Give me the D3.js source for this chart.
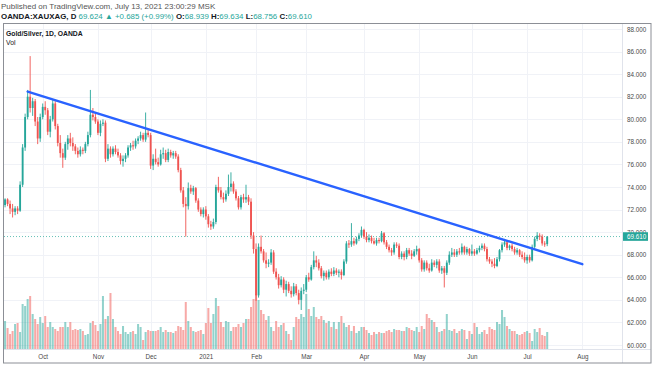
<!DOCTYPE html>
<html>
<head>
<meta charset="utf-8">
<script src="https://cdn.jsdelivr.net/npm/d3@7"></script>
<style>
  body { margin: 0; background: #fff; }
  svg { display: block; font-family: "Liberation Sans", Arial, sans-serif; }
</style>
</head>
<body>
<svg id="chart" width="654" height="366"></svg>
<script>
// ---- data (OANDA:XAUXAG, daily) ----
const firstDay = "2020-09-10";
const axisEndDay = "2021-09-30";
const holidays = ["2020-12-25", "2021-01-01"];

const opens = [
  72.4,72.9,72.5,72.1,71.8,72.1,71.9,74.2,77.5,80.2, 82.0,81.0,81.6,79.8,78.3,80.2,81.1,80.8,78.9,80.0,
  81.4,79.4,77.9,77.0,76.6,77.8,78.3,77.9,77.6,77.2, 76.9,77.3,77.2,77.8,78.6,80.4,80.2,79.8,78.8,79.6,
  79.7,76.5,77.4,76.9,77.4,77.1,76.8,76.3,76.5,76.8, 77.5,77.7,77.6,78.1,78.3,78.6,78.2,78.8,78.6,75.9,
  76.5,76.2,76.0,76.9,77.0,76.4,77.1,76.8,77.0,76.7, 75.5,73.7,72.5,72.3,73.9,73.6,73.9,72.8,72.0,71.6,
  72.0,71.4,70.7,70.5,70.9,74.0,73.7,73.1,72.9,73.4, 74.0,74.3,73.6,73.0,72.2,73.1,72.9,73.1,72.7,69.7,
  68.5,64.4,68.7,68.3,67.5,67.2,67.3,68.2,66.5,66.0, 65.3,65.8,64.9,65.4,64.8,64.5,65.2,64.6,64.0,64.8,
  64.9,66.0,65.8,66.9,67.5,67.3,66.8,66.1,66.4,66.0, 66.5,66.3,66.6,66.4,66.5,66.2,67.4,69.0,68.9,69.2,
  69.0,69.4,69.7,70.2,69.6,69.3,69.5,69.2,69.0,69.3, 69.2,69.9,69.1,68.7,68.4,68.2,68.9,68.8,67.8,68.1,
  67.8,68.4,68.1,67.9,68.3,68.5,67.5,66.7,67.3,66.8, 66.6,67.3,67.1,67.4,66.6,66.8,66.4,67.3,68.0,68.2,
  68.0,68.3,68.2,68.7,68.2,68.5,68.1,68.3,68.1,68.4, 68.6,68.8,68.5,67.6,67.4,67.2,67.0,67.6,68.4,68.9,
  69.1,68.6,68.8,68.5,68.2,68.4,68.0,67.8,67.5,67.8, 67.5,68.7,69.4,69.7,69.6,69.0,68.939
];
const highs = [
  73.0,73.0,72.8,72.5,72.3,72.3,74.5,77.8,80.5,82.6, 85.6,81.9,81.8,80.2,80.5,81.4,81.6,81.0,80.3,81.7,
  81.6,79.6,78.6,77.4,78.0,78.6,78.8,78.4,77.8,77.5, 77.6,77.5,78.0,78.9,82.6,81.0,80.5,80.0,79.9,80.0,
  79.9,77.8,77.6,77.6,77.7,77.4,77.0,76.8,77.0,77.7, 77.9,78.1,78.3,78.5,78.9,78.8,80.6,79.2,78.8,76.9,
  77.4,76.6,77.3,77.5,77.3,77.4,77.3,77.2,77.2,76.9, 75.7,74.0,73.1,74.4,74.2,74.1,74.0,73.0,72.2,72.2,
  72.3,71.6,71.0,71.2,74.2,74.9,74.0,73.5,73.7,75.1, 75.3,74.5,73.8,73.2,73.3,73.4,74.2,73.3,73.0,70.0,
  69.0,69.0,69.7,68.5,68.2,67.6,68.5,68.4,66.8,66.3, 66.1,66.0,65.7,65.6,65.2,65.5,65.4,64.9,65.1,65.4,
  66.2,66.4,67.1,68.3,67.9,67.6,67.0,66.6,66.6,66.7, 66.8,66.9,66.8,66.7,66.7,67.6,69.2,69.3,70.8,69.5,
  69.6,69.9,70.5,70.3,70.0,69.8,69.7,69.5,69.5,69.5, 70.1,70.0,69.3,68.9,68.6,69.1,69.1,69.0,68.3,68.3,
  68.6,68.6,68.4,68.5,68.8,68.6,67.7,67.5,67.5,67.2, 67.6,67.5,67.6,67.6,67.0,67.0,67.5,68.3,68.6,68.5,
  68.5,68.6,69.0,68.8,68.7,68.6,68.9,68.5,68.6,68.8, 69.0,69.0,68.7,67.8,67.6,67.7,67.8,68.5,69.1,69.4,
  69.3,68.9,69.0,68.7,68.6,68.5,68.3,68.2,68.0,68.0, 68.9,69.6,70.0,69.9,69.8,69.2,69.634
];
const lows = [
  72.2,72.3,71.6,71.3,71.5,71.6,71.8,74.0,77.2,80.0, 80.6,80.3,79.4,77.8,78.0,80.0,80.4,78.6,78.4,79.8,
  79.1,77.6,76.6,75.7,76.4,77.3,77.6,77.2,76.9,76.6, 76.7,76.9,77.0,77.6,78.4,79.9,79.6,78.6,78.5,79.4,
  76.2,76.3,76.6,76.7,76.9,76.6,76.0,75.8,76.2,76.6, 77.2,77.3,77.4,77.8,78.1,78.0,78.0,78.4,75.6,75.5,
  76.0,75.8,75.9,76.5,76.2,76.2,76.6,76.5,76.5,75.3, 73.5,72.2,69.6,72.0,73.4,73.3,72.6,71.8,71.4,71.3,
  71.1,70.4,70.2,70.3,70.7,73.5,72.9,72.6,72.7,73.2, 73.6,73.4,72.8,72.0,72.0,72.6,72.6,72.4,69.4,68.1,
  63.9,64.2,68.1,67.3,66.8,66.9,67.1,66.3,65.8,65.0, 65.1,64.6,64.3,64.6,64.2,64.3,64.4,63.6,63.1,64.5,
  64.7,65.6,65.7,66.7,66.9,66.6,65.9,65.7,65.8,65.8, 66.1,66.1,66.2,66.0,65.8,66.1,67.2,68.6,68.7,68.8,
  68.9,69.2,69.5,69.4,69.1,69.1,69.0,68.9,68.8,69.0, 69.1,68.9,68.5,68.2,67.9,68.0,68.6,67.6,67.6,67.5,
  67.6,67.9,67.6,67.8,68.0,67.3,66.5,66.5,66.6,66.4, 66.5,66.9,66.8,66.4,66.3,65.1,66.2,67.1,67.8,67.8,
  67.8,68.0,68.0,68.0,68.0,67.9,67.9,67.9,68.0,68.2, 68.4,68.3,67.4,67.2,66.9,66.8,66.9,67.4,68.2,68.7,
  68.4,68.4,68.3,68.0,68.0,67.8,67.6,67.3,67.2,67.3, 67.4,68.5,69.2,69.3,68.8,68.7,68.756
];
const closes = [
  72.9,72.5,72.1,71.8,72.1,71.9,74.2,77.5,80.2,82.0, 81.0,81.6,79.8,78.3,80.2,81.1,80.8,78.9,80.0,81.4,
  79.4,77.9,77.0,76.6,77.8,78.3,77.9,77.6,77.2,76.9, 77.3,77.2,77.8,78.6,80.4,80.2,79.8,78.8,79.6,79.7,
  76.5,77.4,76.9,77.4,77.1,76.8,76.3,76.5,76.8,77.5, 77.7,77.6,78.1,78.3,78.6,78.2,78.8,78.6,75.9,76.5,
  76.2,76.0,76.9,77.0,76.4,77.1,76.8,77.0,76.7,75.5, 73.7,72.5,72.3,73.9,73.6,73.9,72.8,72.0,71.6,72.0,
  71.4,70.7,70.5,70.9,74.0,73.7,73.1,72.9,73.4,74.0, 74.3,73.6,73.0,72.2,73.1,72.9,73.1,72.7,69.7,68.5,
  64.4,68.7,68.3,67.5,67.2,67.3,68.2,66.5,66.0,65.3, 65.8,64.9,65.4,64.8,64.5,65.2,64.6,64.0,64.8,64.9,
  66.0,65.8,66.9,67.5,67.3,66.8,66.1,66.4,66.0,66.5, 66.3,66.6,66.4,66.5,66.2,67.4,69.0,68.9,69.2,69.0,
  69.4,69.7,70.2,69.6,69.3,69.5,69.2,69.0,69.3,69.2, 69.9,69.1,68.7,68.4,68.2,68.9,68.8,67.8,68.1,67.8,
  68.4,68.1,67.9,68.3,68.5,67.5,66.7,67.3,66.8,66.6, 67.3,67.1,67.4,66.6,66.8,66.4,67.3,68.0,68.2,68.0,
  68.3,68.2,68.7,68.2,68.5,68.1,68.3,68.1,68.4,68.6, 68.8,68.5,67.6,67.4,67.2,67.0,67.6,68.4,68.9,69.1,
  68.6,68.8,68.5,68.2,68.4,68.0,67.8,67.5,67.8,67.5, 68.7,69.4,69.7,69.6,69.0,68.925,69.610
];
const volumes = [
  28,21,15,18,25,26,17,45,43,50, 53,35,30,25,32,26,33,22,27,22,
  20,18,22,22,27,22,27,19,20,19, 20,18,14,15,26,28,24,18,25,53,
  30,33,56,30,22,18,15,23,17,15, 17,18,15,25,22,9,17,19,18,18,
  18,19,22,17,19,17,17,16,18,23, 22,19,47,28,22,18,17,18,19,15,
  26,41,26,35,51,43,27,22,28,27, 18,22,22,25,22,26,30,30,42,50,
  55,49,39,35,29,33,22,18,28,22, 24,26,18,15,9,22,32,30,35,32,
  55,40,33,42,32,30,33,29,26,28, 22,27,20,27,33,26,22,24,18,23,
  16,18,22,22,19,16,14,17,15,17, 16,16,18,19,17,20,19,19,18,18,
  22,21,19,18,22,17,23,20,35,31, 29,27,22,17,18,20,35,19,18,20,
  16,18,20,19,10,18,15,26,22,15, 17,19,15,22,20,19,27,25,39,32,
  23,20,18,18,15,14,15,17,18,16, 8,20,17,21,14,13,17
];

const priceTicks = [60, 62, 64, 66, 68, 70, 72, 74, 76, 78, 80, 82, 84, 86, 88];
const tickMonths = ["2020-10", "2020-11", "2020-12", "2021-01", "2021-02", "2021-03",
                    "2021-04", "2021-05", "2021-06", "2021-07", "2021-08"];
const tickLabels = ["Oct", "Nov", "Dec", "2021", "Feb", "Mar", "Apr", "May", "Jun", "Jul", "Aug"];

// trend line drawn on the chart: [date, price]
const trendFrom = ["2020-09-23", 82.45];
const trendTo = ["2021-08-02", 67.16];
const livePrice = 69.624;

// ---- layout ----
const plot = { left: 4, right: 622, top: 23, bottom: 349 };
const up = "#26a69a", down = "#ef5350";
const font = "'Liberation Sans', Arial, sans-serif";

const svg = d3.select("#chart");

const parse = d3.utcParse("%Y-%m-%d"), fmt = d3.utcFormat("%Y-%m-%d");
const days = d3.utcDays(parse(firstDay), parse(axisEndDay))
  .filter(d => d.getUTCDay() % 6 !== 0 && !holidays.includes(fmt(d)));
const idxOf = s => days.findIndex(d => fmt(d) >= s);

const bars = closes.map((c, i) => ({ i: i, o: opens[i], h: highs[i], l: lows[i], c: c, v: volumes[i] }));
const n = bars.length;

const x = d3.scaleLinear().domain([-0.42, 245.8]).range([plot.left, plot.right]);
const y = d3.scaleLinear().domain([60, 88]).range([345, 29]);
const yVol = d3.scaleLinear().domain([0, d3.max(volumes)]).range([plot.bottom, plot.bottom - 56]);
const step = x(1) - x(0);

svg.append("defs").append("clipPath").attr("id", "clip")
  .append("rect")
  .attr("x", plot.left).attr("y", plot.top)
  .attr("width", plot.right - plot.left).attr("height", plot.bottom - plot.top);

// grid
const tickIdx = tickMonths.map(m => days.findIndex(d => fmt(d).slice(0, 7) === m));
const grid = svg.append("g").attr("stroke", "#f0f2f7").attr("stroke-width", 1);
grid.selectAll(".hg").data(priceTicks).enter().append("line")
  .attr("x1", plot.left).attr("x2", plot.right)
  .attr("y1", d => Math.round(y(d)) + 0.5).attr("y2", d => Math.round(y(d)) + 0.5);
grid.selectAll(".vg").data(tickIdx).enter().append("line")
  .attr("y1", plot.top).attr("y2", plot.bottom)
  .attr("x1", d => Math.round(x(d)) + 0.5).attr("x2", d => Math.round(x(d)) + 0.5);

const pane = svg.append("g").attr("clip-path", "url(#clip)");

// volume
pane.append("g").selectAll("rect")
  .data(bars).enter().append("rect")
  .attr("x", d => x(d.i) - step * 0.4)
  .attr("width", step * 0.8)
  .attr("y", d => yVol(d.v))
  .attr("height", d => plot.bottom - yVol(d.v))
  .attr("fill", d => d.c >= d.o ? up : down)
  .attr("fill-opacity", 0.5);

// last price line
const lastY = y(closes[n - 1]);
pane.append("line")
  .attr("x1", plot.left).attr("x2", plot.right)
  .attr("y1", lastY).attr("y2", lastY)
  .attr("stroke", up).attr("stroke-opacity", 0.7)
  .attr("stroke-width", 1).attr("stroke-dasharray", "1,2");

// candles
const candles = pane.append("g");
candles.selectAll("line")
  .data(bars).enter().append("line")
  .attr("x1", d => x(d.i)).attr("x2", d => x(d.i))
  .attr("y1", d => y(d.h)).attr("y2", d => y(d.l))
  .attr("stroke", d => d.c >= d.o ? up : down)
  .attr("stroke-width", 0.9);
candles.selectAll("rect")
  .data(bars).enter().append("rect")
  .attr("x", d => x(d.i) - step * 0.37)
  .attr("width", step * 0.74)
  .attr("y", d => y(Math.max(d.o, d.c)))
  .attr("height", d => Math.max(1, Math.abs(y(d.o) - y(d.c))))
  .attr("fill", d => d.c >= d.o ? up : down);

// trend line
const trend = [[idxOf(trendFrom[0]), trendFrom[1]], [idxOf(trendTo[0]), trendTo[1]]];
pane.append("path")
  .datum(trend)
  .attr("d", d3.line().x(d => x(d[0])).y(d => y(d[1])))
  .attr("fill", "none")
  .attr("stroke", "#2962ff")
  .attr("stroke-width", 2.4)
  .attr("stroke-linecap", "round");

// price axis
const yAxis = svg.append("g")
  .attr("transform", "translate(" + plot.right + ",0)")
  .call(d3.axisRight(y).tickValues(priceTicks).tickFormat(d3.format(".3f")).tickSize(0).tickPadding(5));
yAxis.select(".domain").remove();
yAxis.attr("font-family", font).attr("font-size", 6.3);
yAxis.selectAll("text").attr("fill", "#4a4a4a");

// time axis
const xAxis = svg.append("g")
  .attr("transform", "translate(0," + plot.bottom + ")")
  .call(d3.axisBottom(x).tickValues(tickIdx).tickFormat((d, i) => tickLabels[i]).tickSize(0).tickPadding(5.5));
xAxis.select(".domain").remove();
xAxis.attr("font-family", font).attr("font-size", 6.3);
xAxis.selectAll("text").attr("fill", "#4a4a4a");

// last price tag (sits over the 70.000 label, as in the original)
svg.append("rect")
  .attr("x", plot.right).attr("y", lastY - 4.3)
  .attr("width", 26).attr("height", 8.6)
  .attr("fill", up);
svg.append("text")
  .attr("x", plot.right + 5).attr("y", lastY)
  .attr("dy", "0.35em")
  .attr("font-family", font).attr("font-size", 6.3)
  .attr("fill", "#fff")
  .text(d3.format(".3f")(closes[n - 1]));

// separators and frame
svg.append("line")
  .attr("x1", plot.right + 0.5).attr("x2", plot.right + 0.5)
  .attr("y1", plot.top).attr("y2", 363)
  .attr("stroke", "#e0e3eb");
svg.append("line")
  .attr("x1", plot.left).attr("x2", 651)
  .attr("y1", plot.bottom + 0.5).attr("y2", plot.bottom + 0.5)
  .attr("stroke", "#e0e3eb");
svg.append("rect")
  .attr("x", 3.5).attr("y", 23.5)
  .attr("width", 647.5).attr("height", 339.5)
  .attr("fill", "none")
  .attr("stroke", "#8c8f96");

// header
svg.append("text")
  .attr("x", 1).attr("y", 8.8)
  .attr("font-family", font).attr("font-size", 8)
  .attr("fill", "#555")
  .text("Published on TradingView.com, July 13, 2021 23:00:29 MSK");

const chg = closes[n - 1] - closes[n - 2];
const f3 = d3.format(".3f");
const parts = [
  ["OANDA:XAUXAG, D ", "#131722", "bold"],
  [f3(livePrice) + " ", up, "normal"],
  ["\u25B2 ", up, "normal"],
  ["+" + f3(chg) + " (+" + d3.format(".2f")(chg / closes[n - 2] * 100) + "%) ", up, "normal"],
  ["O:", "#131722", "bold"], [f3(opens[n - 1]) + " ", up, "normal"],
  ["H:", "#131722", "bold"], [f3(highs[n - 1]) + " ", up, "normal"],
  ["L:", "#131722", "bold"], [f3(lows[n - 1]) + " ", up, "normal"],
  ["C:", "#131722", "bold"], [f3(closes[n - 1]), up, "normal"]
];
const line2 = svg.append("text")
  .attr("x", 1).attr("y", 18.8)
  .attr("font-family", font).attr("font-size", 7.9)
  .attr("xml:space", "preserve");
line2.selectAll("tspan").data(parts).enter().append("tspan")
  .attr("fill", d => d[1])
  .attr("font-weight", d => d[2])
  .text(d => d[0]);

svg.append("text")
  .attr("x", 6).attr("y", 36.4)
  .attr("font-family", font).attr("font-size", 6.8)
  .attr("font-weight", "bold")
  .attr("fill", "#131722")
  .text("Gold/Silver, 1D, OANDA");
svg.append("text")
  .attr("x", 6).attr("y", 45.2)
  .attr("font-family", font).attr("font-size", 6.8)
  .attr("fill", "#131722")
  .text("Vol");
</script>
</body>
</html>
